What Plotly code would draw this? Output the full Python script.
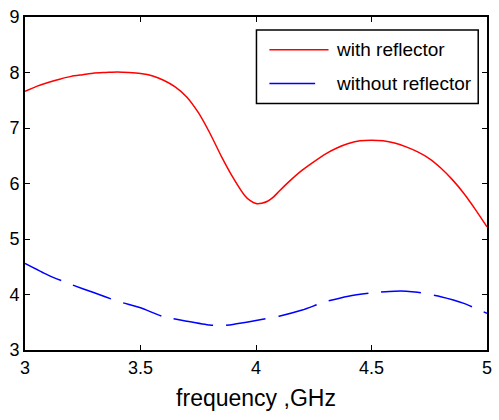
import plotly.graph_objects as go

freq = [3.0, 3.05, 3.1, 3.15, 3.2, 3.25, 3.3, 3.35, 3.4, 3.45, 3.5, 3.55, 3.6, 3.65, 3.7,
        3.75, 3.8, 3.85, 3.9, 3.95, 3.975, 4.0, 4.025, 4.05, 4.075, 4.1, 4.15, 4.2, 4.25,
        4.3, 4.35, 4.4, 4.45, 4.5, 4.55, 4.6, 4.65, 4.7, 4.75, 4.8, 4.85, 4.9, 4.95, 5.0]
with_reflector = [7.66, 7.75, 7.82, 7.88, 7.93, 7.96, 7.99, 8.00, 8.01, 8.00, 7.98, 7.94,
                  7.86, 7.74, 7.56, 7.28, 6.91, 6.49, 6.11, 5.79, 5.69, 5.64, 5.645, 5.68,
                  5.755, 5.86, 6.06, 6.24, 6.39, 6.53, 6.64, 6.72, 6.77, 6.78, 6.77, 6.73,
                  6.66, 6.57, 6.45, 6.28, 6.07, 5.82, 5.53, 5.22]

freq_b = [3.0, 3.1, 3.2, 3.3, 3.4, 3.5, 3.6, 3.7, 3.8, 3.85, 3.9, 4.0, 4.1, 4.2, 4.3,
          4.4, 4.5, 4.6, 4.65, 4.7, 4.8, 4.9, 5.0]
without_reflector = [4.56, 4.35, 4.18, 4.03, 3.88, 3.76, 3.60, 3.52, 3.45, 3.44, 3.46,
                     3.53, 3.61, 3.72, 3.87, 3.97, 4.03, 4.06, 4.06, 4.04, 3.96, 3.84, 3.66]

x_ticks = [3, 3.5, 4, 4.5, 5]
x_ticktext = ["3", "3.5", "4", "4.5", "5"]
y_ticks = [3, 4, 5, 6, 7, 8, 9]
names = ["with reflector", "without reflector"]

FONT = "Liberation Sans, Arial, sans-serif"

fig = go.Figure()
fig.add_trace(go.Scatter(x=freq, y=with_reflector, mode="lines", name=names[0],
                         line=dict(color="#ff0000", width=1.5, shape="spline", smoothing=0.6),
                         showlegend=False))
fig.add_trace(go.Scatter(x=freq_b, y=without_reflector, mode="lines", name=names[1],
                         line=dict(color="#0000ff", width=1.5, shape="spline", smoothing=0.6,
                                   dash="40px,13px"),
                         showlegend=False))

# legend drawn in paper coordinates
fig.add_shape(type="rect", xref="paper", yref="paper", x0=0.501, x1=0.981, y0=0.740, y1=0.961,
              line=dict(color="black", width=1.5), fillcolor="white", layer="above")
fig.add_shape(type="line", xref="paper", yref="paper", x0=0.529, x1=0.657, y0=0.9015, y1=0.9015,
              line=dict(color="#ff0000", width=1.5), layer="above")
fig.add_shape(type="line", xref="paper", yref="paper", x0=0.529, x1=0.628, y0=0.80, y1=0.80,
              line=dict(color="#0000ff", width=1.5), layer="above")
for name, yy in zip(names, [0.9015, 0.80]):
    fig.add_annotation(text=name, xref="paper", yref="paper", x=0.668, y=yy,
                       xanchor="left", yanchor="middle", showarrow=False,
                       font=dict(family=FONT, size=19, color="black"))

axis_common = dict(showline=True, linecolor="black", linewidth=2, mirror="ticks",
                   ticks="inside", ticklen=5, tickwidth=1, tickcolor="black",
                   showgrid=False, zeroline=False,
                   tickfont=dict(family=FONT, size=18, color="black"))

fig.update_xaxes(range=[3, 5], tickvals=x_ticks, ticktext=x_ticktext,
                 title=dict(text="frequency ,GHz", font=dict(family=FONT, size=23, color="black"),
                            standoff=13),
                 **axis_common)
fig.update_yaxes(range=[3, 9], tickvals=y_ticks, **axis_common)

fig.update_layout(width=499, height=420, margin=dict(l=25, r=7, t=15, b=70),
                  paper_bgcolor="white", plot_bgcolor="white", showlegend=False)

fig.write_html("out.html")
